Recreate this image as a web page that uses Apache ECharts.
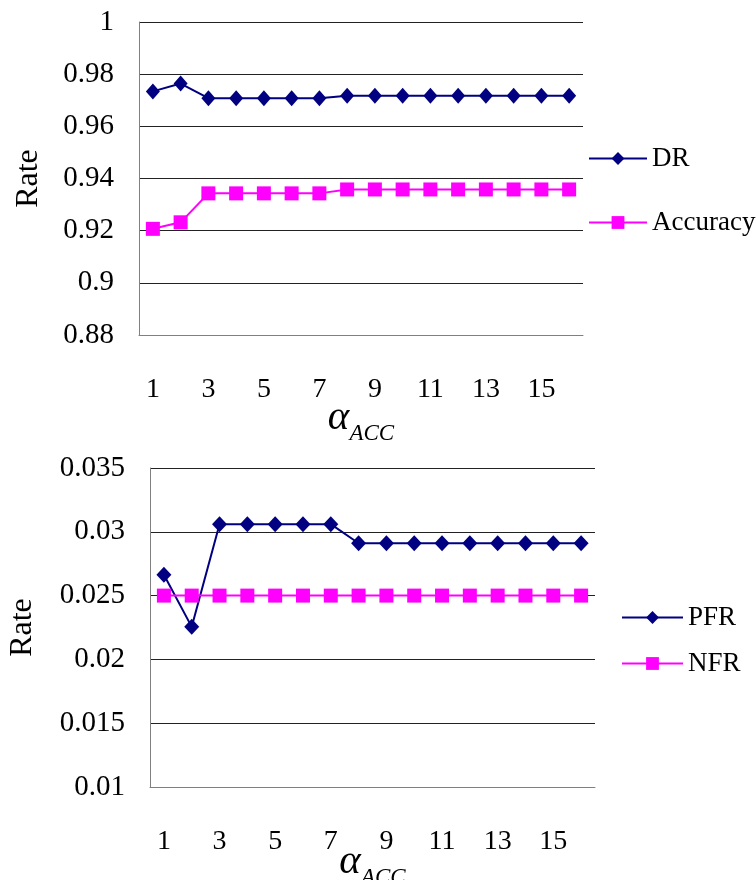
<!DOCTYPE html>
<html>
<head>
<meta charset="utf-8">
<script src="https://cdn.jsdelivr.net/npm/echarts@6/dist/echarts.min.js"></script>
<style>
html,body{margin:0;padding:0;background:#fff;}
#c{width:756px;height:880px;}
</style>
</head>
<body>
<div id="c"></div>
<script>
const categories = ['1','2','3','4','5','6','7','8','9','10','11','12','13','14','15','16'];
const drValues = [0.9734,0.9764,0.9708,0.9708,0.9708,0.9708,0.9708,0.9717,0.9717,0.9717,0.9717,0.9717,0.9717,0.9717,0.9717,0.9717];
const accuracyValues = [0.9207,0.9232,0.9343,0.9343,0.9343,0.9343,0.9343,0.9358,0.9358,0.9358,0.9358,0.9358,0.9358,0.9358,0.9358,0.9358];
const pfrValues = [0.02664,0.02255,0.0306,0.0306,0.0306,0.0306,0.0306,0.0291,0.0291,0.0291,0.0291,0.0291,0.0291,0.0291,0.0291,0.0291];
const nfrValues = [0.025,0.025,0.025,0.025,0.025,0.025,0.025,0.025,0.025,0.025,0.025,0.025,0.025,0.025,0.025,0.025];

const FONT = '"Liberation Serif", "Times New Roman", serif';
const NAVY = '#000080';
const MAGENTA = '#FF00FF';

function xAxisCfg(gridIndex, gap) {
  return {
    type: 'category', gridIndex: gridIndex, data: categories, boundaryGap: true,
    axisLine: {lineStyle: {color: '#808080', width: 1}},
    axisTick: {show: false},
    axisLabel: {interval: 1, fontFamily: FONT, fontSize: 28, color: '#000', margin: 41},
    name: '{a|α}{s|ACC}',
    nameLocation: 'middle', nameGap: gap, nameMoveOverlap: false,
    nameTextStyle: {
      rich: {
        a: {fontFamily: FONT, fontStyle: 'italic', fontSize: 41, color: '#000', verticalAlign: 'bottom'},
        s: {fontFamily: FONT, fontStyle: 'italic', fontSize: 23, color: '#000', verticalAlign: 'bottom', padding: [0,0,-6,0]}
      }
    }
  };
}
function yAxisCfg(gridIndex, min, max, interval, gap) {
  return {
    type: 'value', gridIndex: gridIndex, min: min, max: max, interval: interval,
    axisLine: {show: true, lineStyle: {color: '#808080', width: 1}},
    axisTick: {show: false},
    axisLabel: {fontFamily: FONT, fontSize: 29, color: '#000', margin: 25},
    splitLine: {show: true, lineStyle: {color: '#222', width: 1}},
    name: 'Rate', nameLocation: 'middle', nameGap: gap, nameMoveOverlap: false,
    nameTextStyle: {fontFamily: FONT, fontSize: 32, color: '#000'}
  };
}
function lineSeries(name, data, xi, color, symbol, size) {
  return {
    name: name, type: 'line', xAxisIndex: xi, yAxisIndex: xi, data: data,
    symbol: symbol, symbolSize: size, showSymbol: true,
    lineStyle: {color: color, width: 2},
    itemStyle: {color: color},
    animation: false
  };
}

const chart = echarts.init(document.getElementById('c'));
chart.setOption({
  backgroundColor: '#fff',
  animation: false,
  grid: [
    {left: 139, top: 22, width: 444, height: 313, outerBoundsMode: 'none', containLabel: false},
    {left: 150, top: 468, width: 445, height: 319, outerBoundsMode: 'none', containLabel: false}
  ],
  xAxis: [xAxisCfg(0, 63), xAxisCfg(1, 55)],
  yAxis: [yAxisCfg(0, 0.88, 1, 0.02, 94), yAxisCfg(1, 0.01, 0.035, 0.005, 111)],
  legend: [
    {data: ['DR','Accuracy'], orient: 'vertical', left: 583, top: 140, itemWidth: 58, itemHeight: 16, itemGap: 37,
     textStyle: {fontFamily: FONT, fontSize: 27, color: '#000'}},
    {data: ['PFR','NFR'], orient: 'vertical', left: 616, top: 599, itemWidth: 61, itemHeight: 16, itemGap: 19,
     textStyle: {fontFamily: FONT, fontSize: 27, color: '#000'}}
  ],
  series: [
    lineSeries('DR', drValues, 0, NAVY, 'diamond', [14,16]),
    lineSeries('Accuracy', accuracyValues, 0, MAGENTA, 'rect', 14),
    lineSeries('PFR', pfrValues, 1, NAVY, 'diamond', [15,16]),
    lineSeries('NFR', nfrValues, 1, MAGENTA, 'rect', 14)
  ]
});
</script>
</body>
</html>
